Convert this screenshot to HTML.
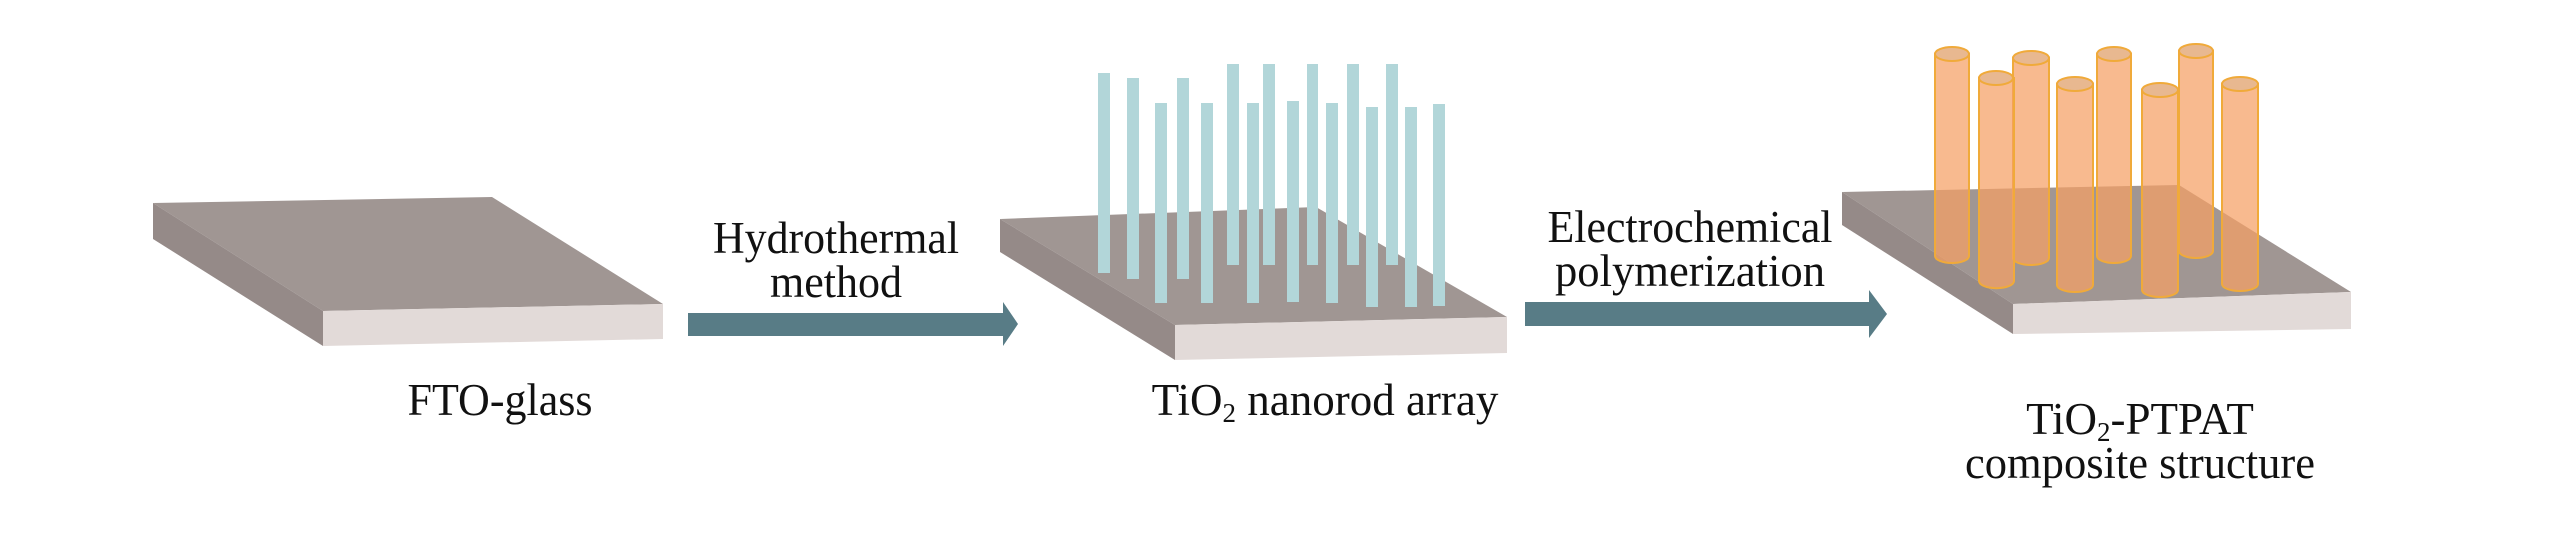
<!DOCTYPE html>
<html><head><meta charset="utf-8"><style>
html,body{margin:0;padding:0;background:#fff;}
svg{display:block;}
text{font-family:"Liberation Serif",serif;fill:#111;}
</style></head><body>
<svg width="2567" height="551" viewBox="0 0 2567 551" xmlns="http://www.w3.org/2000/svg">
<!-- Plate 1 -->
<polygon points="153,203 492,197 663,304 323,311" fill="#a09693"/>
<polygon points="153,203 323,311 323,346 153,239" fill="#958a88"/>
<polygon points="323,311 663,304 663,339 323,346" fill="#e2dad8"/>
<!-- Arrow 1 -->
<polygon points="688,313 1003,313 1003,302 1018,324 1003,346 1003,336 688,336" fill="#587c86"/>
<text x="836" y="253" font-size="45" text-anchor="middle" textLength="246" lengthAdjust="spacingAndGlyphs">Hydrothermal</text>
<text x="836" y="297" font-size="45" text-anchor="middle" textLength="132" lengthAdjust="spacingAndGlyphs">method</text>
<text x="500" y="415" font-size="45" text-anchor="middle" textLength="185" lengthAdjust="spacingAndGlyphs">FTO-glass</text>
<!-- Plate 2 -->
<polygon points="1000,219 1316,207 1507,317 1175,325" fill="#a09693"/>
<polygon points="1000,219 1175,325 1175,360 1000,252" fill="#958a88"/>
<polygon points="1175,325 1507,317 1507,353 1175,360" fill="#e2dad8"/>
<g fill="#b2d6d9">
<rect x="1098" y="73" width="12" height="200"/>
<rect x="1127" y="78" width="12" height="201"/>
<rect x="1155" y="103" width="12" height="200"/>
<rect x="1177" y="78" width="12" height="201"/>
<rect x="1201" y="103" width="12" height="200"/>
<rect x="1227" y="64" width="12" height="201"/>
<rect x="1247" y="103" width="12" height="200"/>
<rect x="1263" y="64" width="12" height="201"/>
<rect x="1287" y="101" width="12" height="201"/>
<rect x="1307" y="64" width="11" height="201"/>
<rect x="1326" y="103" width="12" height="200"/>
<rect x="1347" y="64" width="12" height="201"/>
<rect x="1366" y="107" width="12" height="200"/>
<rect x="1386" y="64" width="12" height="201"/>
<rect x="1405" y="107" width="12" height="200"/>
<rect x="1433" y="104" width="12" height="202"/>
</g>
<text x="1325" y="415" font-size="45" text-anchor="middle"><tspan>TiO</tspan><tspan font-size="27" dy="7">2</tspan><tspan dy="-7"> nanorod array</tspan></text>
<!-- Arrow 2 -->
<polygon points="1525,302 1869,302 1869,290 1887,314 1869,338 1869,326 1525,326" fill="#587c86"/>
<text x="1690" y="242" font-size="45" text-anchor="middle" textLength="285" lengthAdjust="spacingAndGlyphs">Electrochemical</text>
<text x="1690" y="286" font-size="45" text-anchor="middle" textLength="270" lengthAdjust="spacingAndGlyphs">polymerization</text>
<!-- Plate 3 -->
<polygon points="1842,192 2179,185 2351,292 2013,304" fill="#a09693"/>
<polygon points="1842,192 2013,304 2013,334 1842,225" fill="#958a88"/>
<polygon points="2013,304 2351,292 2351,329 2013,334" fill="#e2dad8"/>
<g fill="rgba(245,160,100,0.72)" stroke="#f0aa3a" stroke-width="2">
<path d="M1935,54 V256 A17,7 0 0 0 1969,256 V54 Z"/><ellipse cx="1952" cy="54" rx="17" ry="7" fill="#e8b890"/>
<path d="M2013,58 V258 A18,7 0 0 0 2049,258 V58 Z"/><ellipse cx="2031" cy="58" rx="18" ry="7" fill="#e8b890"/>
<path d="M2097,54 V256 A17,7 0 0 0 2131,256 V54 Z"/><ellipse cx="2114" cy="54" rx="17" ry="7" fill="#e8b890"/>
<path d="M2179,51 V251 A17,7 0 0 0 2213,251 V51 Z"/><ellipse cx="2196" cy="51" rx="17" ry="7" fill="#e8b890"/>
<path d="M1979,78 V281 A17,7 0 0 0 2014,281 V78 Z"/><ellipse cx="1996" cy="78" rx="17" ry="7" fill="#e8b890"/>
<path d="M2057,84 V285 A18,7 0 0 0 2093,285 V84 Z"/><ellipse cx="2075" cy="84" rx="18" ry="7" fill="#e8b890"/>
<path d="M2142,90 V290 A18,7 0 0 0 2178,290 V90 Z"/><ellipse cx="2160" cy="90" rx="18" ry="7" fill="#e8b890"/>
<path d="M2222,84 V284 A18,7 0 0 0 2258,284 V84 Z"/><ellipse cx="2240" cy="84" rx="18" ry="7" fill="#e8b890"/>
</g>
<text x="2140" y="434" font-size="45" text-anchor="middle"><tspan>TiO</tspan><tspan font-size="27" dy="7">2</tspan><tspan dy="-7">-PTPAT</tspan></text>
<text x="2140" y="478" font-size="45" text-anchor="middle" textLength="350" lengthAdjust="spacingAndGlyphs">composite structure</text>
</svg>
</body></html>
